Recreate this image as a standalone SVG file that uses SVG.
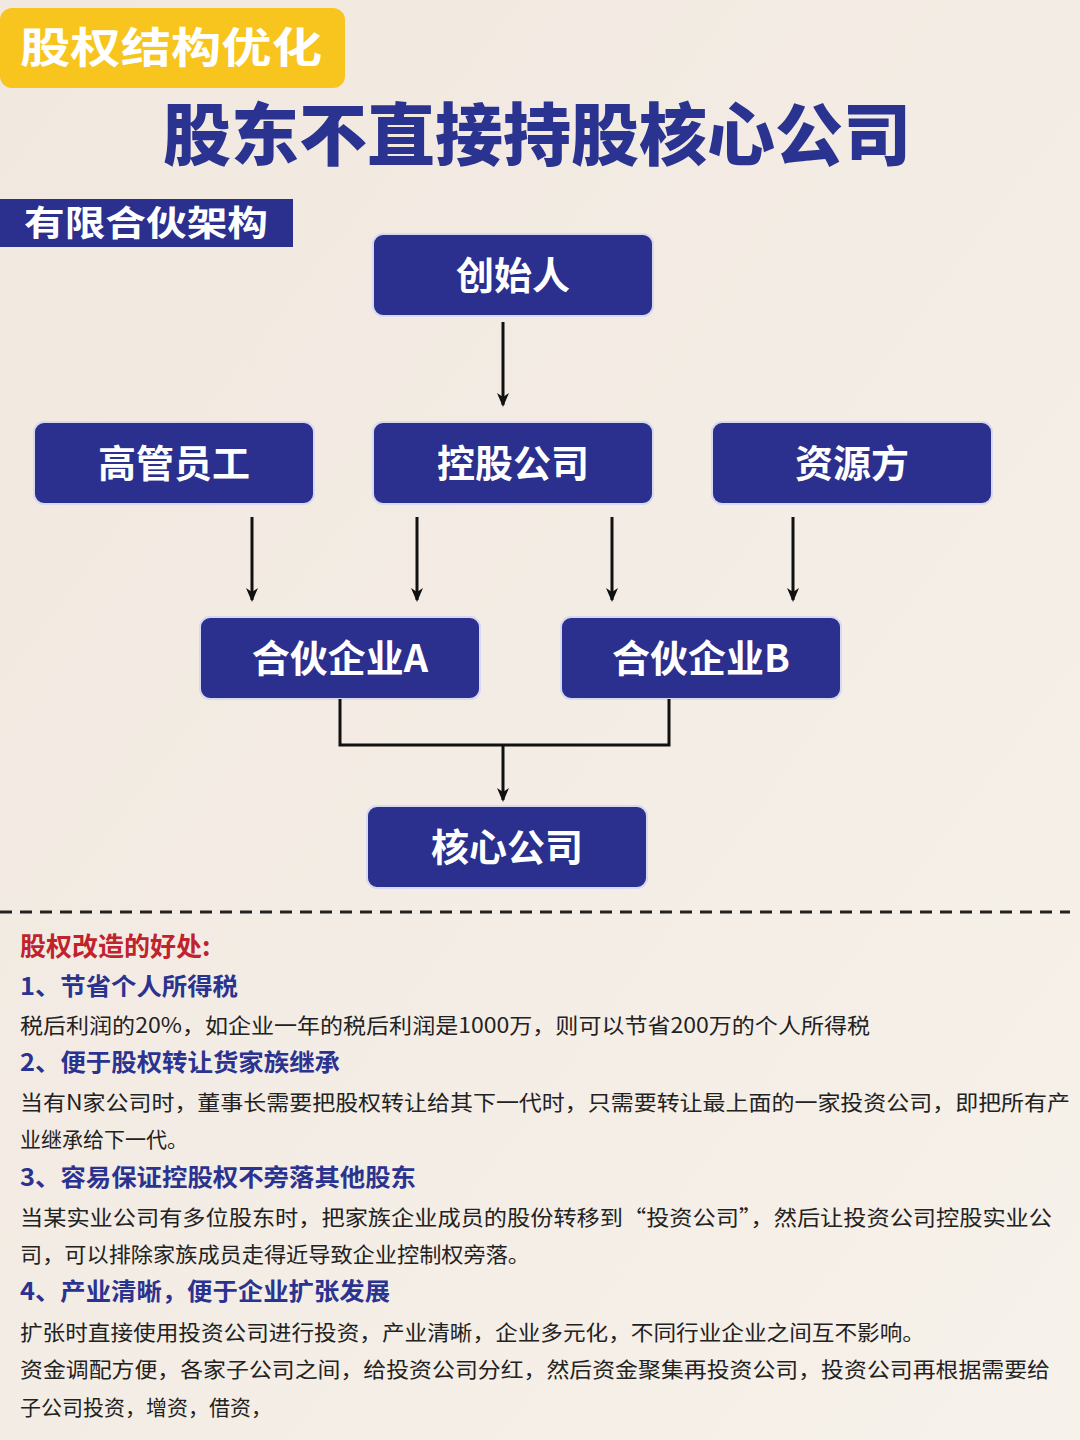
<svg xmlns="http://www.w3.org/2000/svg" width="1080" height="1440" viewBox="0 0 1080 1440">
<defs>
<linearGradient id="bg" x1="0" y1="0" x2="1" y2="1"><stop offset="0" stop-color="#f1e8df"/><stop offset="1" stop-color="#f6f1ea"/></linearGradient>
<marker id="ah" markerWidth="14" markerHeight="12" refX="12" refY="6" orient="auto" markerUnits="userSpaceOnUse" viewBox="0 0 14 12"><path d="M0,0 L14,6 L0,12 L4,6 Z" fill="#111"/></marker>
</defs>
<style>
text{font-family:"Noto Sans CJK SC","Liberation Sans",sans-serif}
.box{fill:#2b2f8e;stroke:#d8d8ee;stroke-width:2}
.bt{fill:#fff;font-size:38px;font-weight:700;text-anchor:middle}
.ln{stroke:#111;stroke-width:3;fill:none}
.h{fill:#2b3390;font-size:24px;font-weight:700}
.p{fill:#222;font-size:21px}
</style>
<rect width="1080" height="1440" fill="url(#bg)"/>
<rect x="0" y="8" width="345" height="80" rx="12" fill="#f7c51e"/>
<text x="20" y="63" fill="#fff" font-size="42" font-weight="700" textLength="302" lengthAdjust="spacingAndGlyphs">股权结构优化</text>
<text x="537" y="160" fill="#2b3390" font-size="68" font-weight="900" text-anchor="middle">股东不直接持股核心公司</text>
<rect x="0" y="199" width="293" height="48" fill="#2b2f8e"/>
<text x="24" y="236" fill="#fff" font-size="35" font-weight="700" textLength="244" lengthAdjust="spacingAndGlyphs">有限合伙架构</text>
<g id="n1"><rect class="box" x="373" y="234" width="280" height="82" rx="10"/><text class="bt" x="513" y="289">创始人</text></g>
<g id="n2"><rect class="box" x="34" y="422" width="280" height="82" rx="10"/><text class="bt" x="174" y="477">高管员工</text></g>
<g id="n3"><rect class="box" x="373" y="422" width="280" height="82" rx="10"/><text class="bt" x="513" y="477">控股公司</text></g>
<g id="n4"><rect class="box" x="712" y="422" width="280" height="82" rx="10"/><text class="bt" x="852" y="477">资源方</text></g>
<g id="n5"><rect class="box" x="200" y="617" width="280" height="82" rx="10"/><text class="bt" x="340" y="672">合伙企业A</text></g>
<g id="n6"><rect class="box" x="561" y="617" width="280" height="82" rx="10"/><text class="bt" x="701" y="672">合伙企业B</text></g>
<g id="n7"><rect class="box" x="367" y="806" width="280" height="82" rx="10"/><text class="bt" x="507" y="861">核心公司</text></g>
<g id="connectors">
<line class="ln" x1="503" y1="322" x2="503" y2="405" marker-end="url(#ah)"/>
<line class="ln" x1="252" y1="517" x2="252" y2="600" marker-end="url(#ah)"/>
<line class="ln" x1="417" y1="517" x2="417" y2="600" marker-end="url(#ah)"/>
<line class="ln" x1="612" y1="517" x2="612" y2="600" marker-end="url(#ah)"/>
<line class="ln" x1="793" y1="517" x2="793" y2="600" marker-end="url(#ah)"/>
<path class="ln" d="M340,699 V745 H669 V699"/>
<line class="ln" x1="503" y1="745" x2="503" y2="800" marker-end="url(#ah)"/>
</g>
<line x1="0" y1="912" x2="1070" y2="912" stroke="#222" stroke-width="3" stroke-dasharray="12,8"/>
<text x="20" y="956" fill="#c0232b" font-size="26" font-weight="700">股权改造的好处:</text>
<text class="h" x="20" y="995" textLength="218" lengthAdjust="spacingAndGlyphs">1、节省个人所得税</text>
<text class="p" x="20" y="1033" textLength="850" lengthAdjust="spacingAndGlyphs">税后利润的20%，如企业一年的税后利润是1000万，则可以节省200万的个人所得税</text>
<text class="h" x="20" y="1071" textLength="320" lengthAdjust="spacingAndGlyphs">2、便于股权转让货家族继承</text>
<text class="p" x="20" y="1110" textLength="1050" lengthAdjust="spacingAndGlyphs">当有N家公司时，董事长需要把股权转让给其下一代时，只需要转让最上面的一家投资公司，即把所有产</text>
<text class="p" x="20" y="1147">业继承给下一代。</text>
<text class="h" x="20" y="1186" textLength="396" lengthAdjust="spacingAndGlyphs">3、容易保证控股权不旁落其他股东</text>
<text class="p" x="20" y="1225" textLength="1032" lengthAdjust="spacingAndGlyphs">当某实业公司有多位股东时，把家族企业成员的股份转移到“投资公司”，然后让投资公司控股实业公</text>
<text class="p" x="20" y="1262" textLength="510" lengthAdjust="spacingAndGlyphs">司，可以排除家族成员走得近导致企业控制权旁落。</text>
<text class="h" x="20" y="1300" textLength="370" lengthAdjust="spacingAndGlyphs">4、产业清晰，便于企业扩张发展</text>
<text class="p" x="20" y="1340" textLength="905" lengthAdjust="spacingAndGlyphs">扩张时直接使用投资公司进行投资，产业清晰，企业多元化，不同行业企业之间互不影响。</text>
<text class="p" x="20" y="1377" textLength="1030" lengthAdjust="spacingAndGlyphs">资金调配方便，各家子公司之间，给投资公司分红，然后资金聚集再投资公司，投资公司再根据需要给</text>
<text class="p" x="20" y="1415">子公司投资，增资，借资，</text>
</svg>
